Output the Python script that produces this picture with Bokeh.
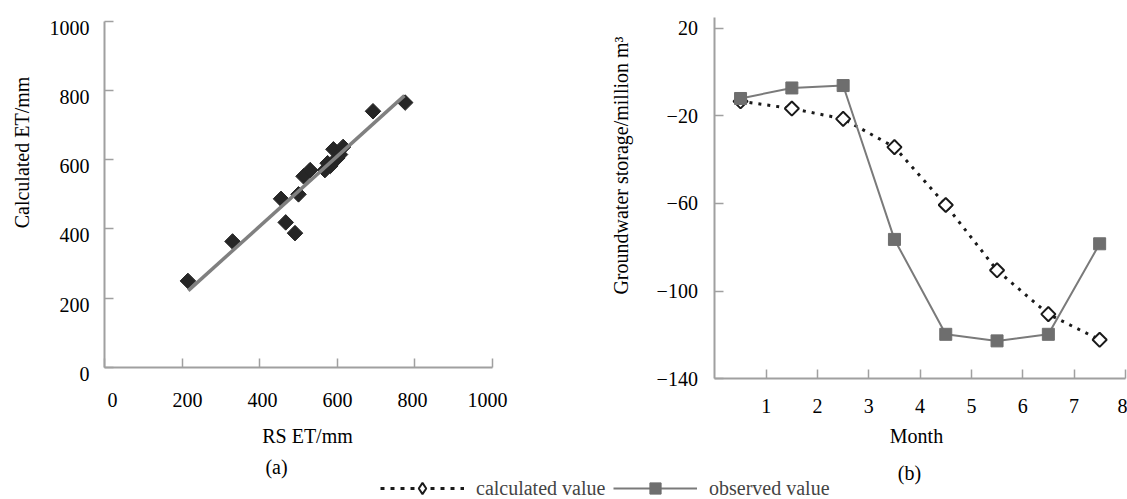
import numpy as np
from bokeh.plotting import figure
from bokeh.models import (Label, Legend, LegendItem, FixedTicker, Range1d,
                          LinearAxis)
from bokeh.layouts import row
from bokeh.embed import file_html
from bokeh.resources import INLINE

FONT = "Liberation Serif"

# ---------------- data: panel (a) ----------------
rs_et = [215, 330, 455, 467, 491, 500, 513, 530, 568, 575, 582, 590, 600, 607, 615, 692, 775]
calc_et = [250, 364, 487, 419, 388, 500, 552, 570, 570, 590, 582, 630, 605, 615, 637, 740, 765]
fit_x = [216, 773]
fit_y = [222, 785]
a_ticks = [0, 200, 400, 600, 800, 1000]

# ---------------- data: panel (b) ----------------
months = [0.5, 1.5, 2.5, 3.5, 4.5, 5.5, 6.5, 7.5]
calculated = [-13.4, -16.7, -21.4, -34.3, -60.7, -90.5, -110.5, -122.2]
observed = [-12.1, -7.3, -6.2, -76.4, -119.7, -122.7, -119.7, -78.4]
month_ticks = [1, 2, 3, 4, 5, 6, 7, 8]
gw_ticks = [-140, -100, -60, -20, 20]

AXIS_COLOR = "#a0a0a0"
CALC_COLOR = "#1a1a1a"
OBS_LINE = "#7a7a7a"
OBS_FILL = "#6e6e6e"
FIG_H = 499
WA = 606          # left canvas width (page x 0..606)
WB = 1127 - WA    # right canvas width (page x 606..1127)


class Mapper:
    """Pixel layout of a panel whose frame covers its whole canvas."""

    def __init__(self, width, height, xp0, xp1, x0, x1, yp0, yp1, y0, y1):
        self.sx = (xp1 - xp0) / (x1 - x0)
        self.sy = (yp0 - yp1) / (y1 - y0)
        self.xp0, self.x0, self.yp0, self.y0 = xp0, x0, yp0, y0
        self.width, self.height = width, height

    def xrange(self):
        return Range1d(self.x0 - self.xp0 / self.sx, self.x0 + (self.width - self.xp0) / self.sx)

    def yrange(self):
        return Range1d(self.y0 - (self.height - self.yp0) / self.sy, self.y0 + self.yp0 / self.sy)

    def x(self, px):
        return self.x0 + (px - self.xp0) / self.sx

    def y(self, py):
        return self.y0 + (self.yp0 - py) / self.sy


def new_fig(m, width, height):
    p = figure(width=width, height=height, x_range=m.xrange(), y_range=m.yrange(),
               x_axis_location=None, y_axis_location=None,
               output_backend="svg", toolbar_location=None,
               min_border=0, min_border_left=0, min_border_right=0,
               min_border_top=0, min_border_bottom=0)
    p.xgrid.visible = False
    p.ygrid.visible = False
    p.outline_line_color = None
    p.background_fill_color = "white"
    p.border_fill_color = "white"
    return p


def tick_axis(fixed, bounds, ticks):
    ax = LinearAxis(fixed_location=fixed, bounds=bounds, ticker=FixedTicker(ticks=ticks))
    ax.axis_line_color = AXIS_COLOR
    ax.axis_line_width = 2
    ax.major_tick_line_color = AXIS_COLOR
    ax.major_tick_line_width = 1.5
    ax.major_tick_in = 9
    ax.major_tick_out = 0
    ax.minor_tick_line_color = None
    ax.major_label_text_color = None
    return ax


def label_axis(fixed, ticks, standoff, overrides=None, **kw):
    ax = LinearAxis(fixed_location=fixed, ticker=FixedTicker(ticks=ticks), **kw)
    ax.axis_line_color = None
    ax.major_tick_line_color = None
    ax.minor_tick_line_color = None
    ax.major_tick_in = 0
    ax.major_tick_out = 0
    ax.major_label_text_font = FONT
    ax.major_label_text_font_size = "20px"
    ax.major_label_text_color = "black"
    ax.major_label_standoff = standoff
    if overrides:
        ax.major_label_overrides = overrides
    return ax


def add_label(p, text, x, y, angle=0.0):
    p.add_layout(Label(x=x, y=y, text=text, angle=angle,
                       text_font=FONT, text_font_size="20px",
                       text_align="center", text_baseline="middle",
                       text_color="black"))


def make_legend(items, x):
    return Legend(items=items, orientation="horizontal", location=(x, -3),
                  glyph_width=84, glyph_height=28, label_standoff=12, spacing=8,
                  padding=0, margin=0, border_line_alpha=0, background_fill_alpha=0,
                  label_text_font=FONT, label_text_font_size="20px")


# ---------------- panel (a) ----------------
ma = Mapper(WA, FIG_H, 104, 492, 0, 1000, 367, 20.7, 0, 1000)
pa = new_fig(ma, WA, FIG_H)
# tick-label placement as in the original scan (labels slightly offset from ticks)
mla = Mapper(WA, FIG_H, 112, 487, 0, 1000, 373.5, 27.2, 0, 1000)
pa.extra_x_ranges = {"lab": mla.xrange()}
pa.extra_y_ranges = {"lab": mla.yrange()}

pa.add_layout(tick_axis(0, (0, 1000), a_ticks), "below")
pa.add_layout(tick_axis(0, (0, 1000), a_ticks), "left")
pa.add_layout(label_axis(0, a_ticks, 25, x_range_name="lab"), "below")
pa.add_layout(label_axis(0, a_ticks, 15, y_range_name="lab"), "left")

pa.scatter(rs_et, calc_et, marker="square", angle=np.pi / 4, size=11,
           fill_color="#262626", line_color="#262626")
pa.line(fit_x, fit_y, line_color="#808080", line_width=3.5)

add_label(pa, "Calculated ET/mm", ma.x(21.7), ma.y(152), angle=np.pi / 2)
add_label(pa, "RS ET/mm", ma.x(307), ma.y(435))
add_label(pa, "(a)", ma.x(276), ma.y(466))

# legend entry for the calculated series (drawn in the left canvas)
nan = [np.nan]
lc = pa.line(nan, nan, line_color=CALC_COLOR, line_width=3, line_dash="4 6")
sc = pa.scatter(nan, nan, marker="diamond", line_width=2,
                fill_color="white", line_color=CALC_COLOR)
pa.add_layout(make_legend([LegendItem(label="calculated value", renderers=[lc, sc])], 380))

# ---------------- panel (b) ----------------
mb = Mapper(WB, FIG_H, 714.4 - WA, 1124.8 - WA, 0, 8, 378.3, 115.3, -140, -20)
pb = new_fig(mb, WB, FIG_H)

gw_over = {t: ("\u2212" + str(abs(t)) if t < 0 else str(t)) for t in gw_ticks}
pb.add_layout(tick_axis(-140, (0, 8), month_ticks), "below")
pb.add_layout(tick_axis(0, (-140, 24.7), gw_ticks), "left")
pb.add_layout(label_axis(-140, month_ticks, 20), "below")
pb.add_layout(label_axis(0, gw_ticks, 17, overrides=gw_over), "left")

pb.line(months, calculated, line_color=CALC_COLOR, line_width=3, line_dash="3 6")
pb.scatter(months, calculated, marker="square", angle=np.pi / 4, size=10,
           fill_color="white", line_color=CALC_COLOR, line_width=2)
lo = pb.line(months, observed, line_color=OBS_LINE, line_width=2)
so = pb.scatter(months, observed, marker="square", size=12,
                fill_color=OBS_FILL, line_color=OBS_FILL)

add_label(pb, "Groundwater storage/million m\u00b3", mb.x(620.5 - WA), mb.y(165), angle=np.pi / 2)
add_label(pb, "Month", mb.x(916 - WA), mb.y(435))
add_label(pb, "(b)", mb.x(909 - WA), mb.y(472))

pb.add_layout(make_legend([LegendItem(label="observed value", renderers=[lo, so])], 613 - WA))

layout = row(pa, pb)

open("out.html", "w").write(file_html(layout, INLINE))
